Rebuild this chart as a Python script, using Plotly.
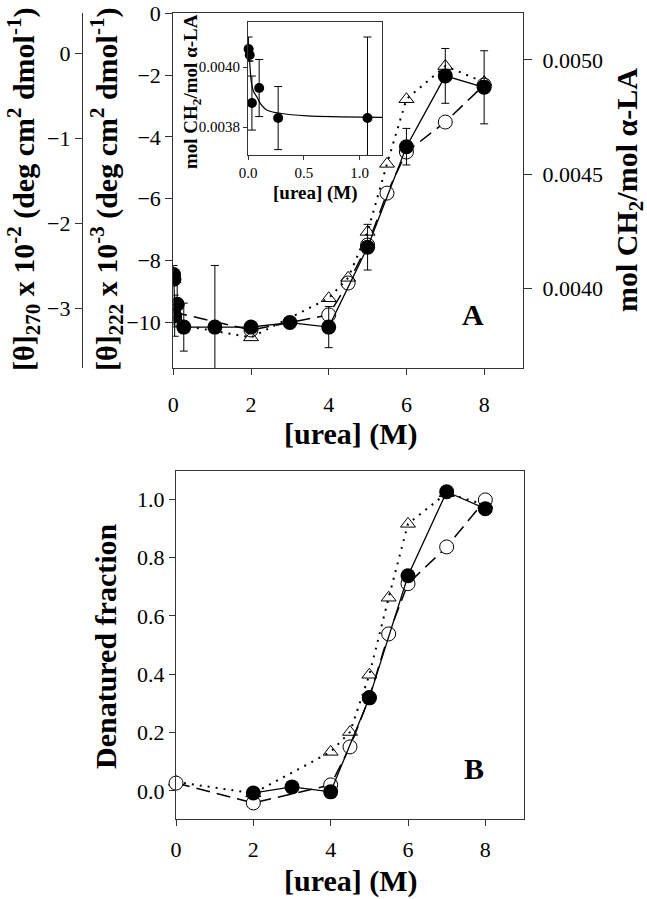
import plotly.graph_objects as go

W, H = 647, 899
FONT = "Liberation Serif"

# ---------------- Panel A data ----------------
# filled circles: mol CH2 / mol alpha-LA (right axis)
ch2_x = [0.005, 0.015, 0.035, 0.1, 0.27, 1.07, 2, 3, 4, 5, 6, 7, 8]
ch2_y = [0.00406, 0.00404, 0.00388, 0.00393, 0.00383, 0.00383, 0.00383, 0.00385,
         0.00383, 0.00418, 0.00462, 0.00493, 0.00488]
ch2_err = [0.00004, 0.00002, 0.00009, 0.000095, 0.000105, 0.00027, 0.00002, 0.00002,
           0.00009, 0.0001, 0.00008, 0.00012, 0.00016]

# open circles: [theta]222 x 10^-3
t222_x = [0, 2, 4, 4.5, 5, 5.5, 6, 7, 8]
t222_y = [-9.67, -10.25, -9.76, -8.73, -7.5, -5.82, -4.49, -3.52, -2.32]

# open triangles: [theta]270 x 10^-2
t270_x = [0, 2, 4, 4.5, 5, 5.5, 6, 7, 8]
t270_y = [-3.18, -3.34, -2.88, -2.64, -2.10, -1.30, -0.54, -0.15, -0.34]

# inset: low-urea CH2 data (same points) and fitted curve
ins_x = [0.005, 0.015, 0.035, 0.1, 0.27, 1.07]
ins_y = [0.00406, 0.00404, 0.00388, 0.00393, 0.00383, 0.00383]
ins_err = [0.00004, 0.00002, 0.00009, 0.000095, 0.000105, 0.00027]
fit_x = [0.0, 0.012, 0.03, 0.048, 0.08, 0.108, 0.168, 0.288, 0.53, 0.83, 1.2]
fit_y = [0.00407, 0.00403, 0.00395, 0.00392, 0.00390, 0.00388, 0.003857, 0.003846,
         0.003837, 0.003834, 0.003832]

# ---------------- Panel B data ----------------
fb_x = [2, 3, 4, 5, 6, 7, 8]
fb_y = [-0.007, 0.014, -0.003, 0.319, 0.737, 1.025, 0.967]
ob_x = [0, 2, 4, 4.5, 5, 5.5, 6, 7, 8]
ob_y = [0.027, -0.041, 0.021, 0.151, 0.32, 0.538, 0.71, 0.836, 0.997]
tb_x = [0, 2, 4, 4.5, 5, 5.5, 6, 7, 8]
tb_y = [0.031, -0.008, 0.134, 0.202, 0.398, 0.662, 0.915, 1.02, 0.98]

x_ticks = [0, 2, 4, 6, 8]
t222_ticks = [0, -2, -4, -6, -8, -10]
t270_ticks = [0, -1, -2, -3]
ch2_ticks = [0.0040, 0.0045, 0.0050]
ch2_ticktext = ["0.0040", "0.0045", "0.0050"]
frac_ticks = [0.0, 0.2, 0.4, 0.6, 0.8, 1.0]
frac_ticktext = ["0.0", "0.2", "0.4", "0.6", "0.8", "1.0"]
ins_xticks = [0.0, 0.5, 1.0]
ins_xticktext = ["0.0", "0.5", "1.0"]
ins_yticks = [0.0038, 0.0040]
ins_yticktext = ["0.0038", "0.0040"]

LINE_C = "#333333"
DOT = "2px,6px"
DASH = "14px,7px"


def px_x(p):
    return p / W


def px_y(p):
    return 1 - p / H


fig = go.Figure()

# ---- Panel A traces ----
fig.add_trace(go.Scatter(x=t270_x, y=t270_y, xaxis="x", yaxis="y3", mode="lines+markers",
                         line=dict(color="black", width=2, dash=DOT),
                         marker=dict(symbol="triangle-up-open", size=13, color="black",
                                     line=dict(width=1, color="black"))))
fig.add_trace(go.Scatter(x=t222_x, y=t222_y, xaxis="x", yaxis="y", mode="lines+markers",
                         line=dict(color="black", width=1.5, dash=DASH),
                         marker=dict(symbol="circle", size=14, color="white",
                                     line=dict(width=1, color="black"))))
fig.add_trace(go.Scatter(x=ch2_x, y=ch2_y, xaxis="x", yaxis="y2", mode="lines+markers",
                         line=dict(color="black", width=1.3),
                         error_y=dict(type="data", array=ch2_err, color="black",
                                      thickness=1, width=4),
                         marker=dict(symbol="circle", size=15, color="black")))

# ---- Inset traces ----
fig.add_trace(go.Scatter(x=fit_x, y=fit_y, xaxis="x3", yaxis="y5", mode="lines",
                         line=dict(color="black", width=1.2, shape="spline")))
fig.add_trace(go.Scatter(x=ins_x, y=ins_y, xaxis="x3", yaxis="y5", mode="markers",
                         error_y=dict(type="data", array=ins_err, color="black",
                                      thickness=1, width=4),
                         marker=dict(symbol="circle", size=10, color="black"),
                         cliponaxis=False))

# ---- Panel B traces ----
fig.add_trace(go.Scatter(x=tb_x, y=tb_y, xaxis="x2", yaxis="y4", mode="lines+markers",
                         line=dict(color="black", width=2, dash=DOT),
                         marker=dict(symbol="triangle-up-open", size=13, color="black",
                                     line=dict(width=1, color="black")),
                         cliponaxis=False))
fig.add_trace(go.Scatter(x=ob_x, y=ob_y, xaxis="x2", yaxis="y4", mode="lines+markers",
                         line=dict(color="black", width=1.5, dash=DASH),
                         marker=dict(symbol="circle", size=14, color="white",
                                     line=dict(width=1, color="black")),
                         cliponaxis=False))
fig.add_trace(go.Scatter(x=fb_x, y=fb_y, xaxis="x2", yaxis="y4", mode="lines+markers",
                         line=dict(color="black", width=1.3),
                         marker=dict(symbol="circle", size=15, color="black"),
                         cliponaxis=False))

tickfont = dict(family=FONT, size=22, color="black")
inset_tickfont = dict(family=FONT, size=15, color="black")

common = dict(showgrid=False, zeroline=False, showline=True, linecolor=LINE_C,
              linewidth=1.2, ticks="outside", tickcolor=LINE_C, tickwidth=1.2,
              tickfont=tickfont, automargin=False)
inset_common = dict(showgrid=False, zeroline=False, showline=True, linecolor=LINE_C,
                    linewidth=1, ticks="outside", tickcolor=LINE_C, ticklen=4,
                    tickfont=inset_tickfont, automargin=False, mirror=True)

topA = [px_y(368), px_y(13.3)]
botB = [px_y(819.3), px_y(471)]

fig.update_layout(
    template="none",
    width=W, height=H,
    margin=dict(l=0, r=0, t=0, b=0, pad=0, autoexpand=False),
    paper_bgcolor="white", plot_bgcolor="white",
    showlegend=False,
    font=dict(family=FONT, color="black"),
    xaxis=dict(**common, domain=[px_x(173.3), px_x(523)], range=[0, 9],
               tickvals=x_ticks, ticklen=6, mirror=True, anchor="y",
               ticklabelstandoff=10),
    yaxis=dict(**common, domain=topA, range=[-11.48, 0], tickvals=t222_ticks,
               ticklen=7, mirror=True, anchor="x"),
    yaxis2=dict(**common, overlaying="y", side="right", anchor="x",
                range=[0.003651, 0.005204], tickvals=ch2_ticks, ticktext=ch2_ticktext,
                ticklen=8, ticklabelstandoff=6),
    yaxis3=dict(**common, overlaying="y", side="left", anchor="free",
                position=px_x(82), range=[-3.70, 0.47], tickvals=t270_ticks,
                ticklen=7),
    xaxis2=dict(**common, domain=[px_x(176), px_x(524)], range=[0, 9],
                tickvals=x_ticks, ticklen=6, mirror=True, anchor="y4",
                ticklabelstandoff=4),
    yaxis4=dict(**common, domain=botB, range=[-0.097, 1.096], tickvals=frac_ticks,
                ticktext=frac_ticktext, ticklen=6, mirror=True, anchor="x2"),
    xaxis3=dict(**inset_common, domain=[px_x(248), px_x(382)],
                range=[0, 1.2], tickvals=ins_xticks, ticktext=ins_xticktext,
                anchor="y5"),
    yaxis5=dict(**inset_common, domain=[px_y(155), px_y(22)],
                range=[0.003707, 0.00415], tickvals=ins_yticks,
                ticktext=ins_yticktext, anchor="x3"),
)

TITLE = 30


def ann(text, x, y, size=TITLE, angle=0):
    fig.add_annotation(text=text, x=x, y=y, xref="paper", yref="paper",
                       showarrow=False, textangle=angle, xanchor="center",
                       yanchor="middle",
                       font=dict(family=FONT, size=size, color="black"))


ann("<b>[θ]<sub>270</sub> x 10<sup>-2</sup> (deg cm<sup>2</sup> dmol<sup>-1</sup>)</b>",
    px_x(24), px_y(190), angle=-90)
ann("<b>[θ]<sub>222</sub> x 10<sup>-3</sup> (deg cm<sup>2</sup> dmol<sup>-1</sup>)</b>",
    px_x(107), px_y(190), angle=-90)
ann("<b>mol CH<sub>2</sub>/mol α-LA</b>", px_x(629), px_y(190), angle=-90)
ann("<b>[urea] (M)</b>", px_x(351), px_y(434))
ann("<b>[urea] (M)</b>", px_x(351), px_y(881))
ann("<b>Denatured fraction</b>", px_x(105), px_y(646), angle=-90)
ann("<b>mol CH<sub>2</sub>/mol α-LA</b>", px_x(192), px_y(92), size=19, angle=-90)
ann("<b>[urea] (M)</b>", px_x(315), px_y(193), size=19)
ann("<b>A</b>", px_x(473), px_y(314))
ann("<b>B</b>", px_x(474), px_y(768))

fig.write_html("out.html",
               config={"displayModeBar": False},
               post_script="document.body.style.margin='0px';"
                           "document.documentElement.style.overflow='hidden';")
